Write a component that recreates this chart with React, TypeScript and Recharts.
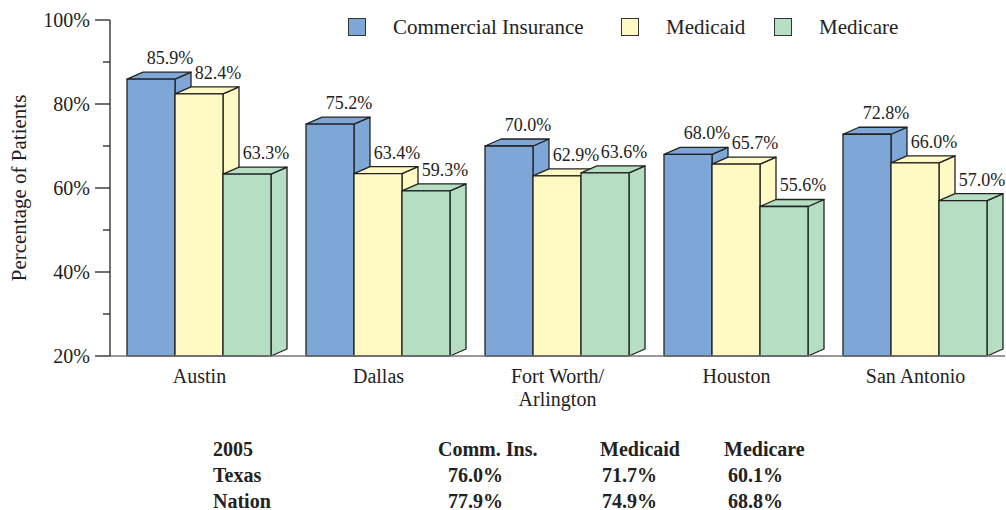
import { BarChart, Bar, XAxis, YAxis, LabelList } from 'recharts';

const cities = ['Austin', 'Dallas', 'Fort Worth/\nArlington', 'Houston', 'San Antonio'];
const commercial = [85.9, 75.2, 70.0, 68.0, 72.8];
const medicaid = [82.4, 63.4, 62.9, 65.7, 66.0];
const medicare = [63.3, 59.3, 63.6, 55.6, 57.0];
const yTicks = [20, 30, 40, 50, 60, 70, 80, 90, 100];
const labeledTicks = [20, 40, 60, 80, 100];

const seriesNames = ['Commercial Insurance', 'Medicaid', 'Medicare'];
const seriesColors = ['#7ea7d8', '#fff9c4', '#b5dec2'];

const tableHeader = ['2005', 'Comm. Ins.', 'Medicaid', 'Medicare'];
const texasRow = ['Texas', '76.0%', '71.7%', '60.1%'];
const nationRow = ['Nation', '77.9%', '74.9%', '68.8%'];

const data = cities.map((city, i) => ({
  city,
  commercial: commercial[i],
  medicaid: medicaid[i],
  medicare: medicare[i],
}));

const FONT = '"Liberation Serif", "Times New Roman", serif';
const DX = 16;
const DY = 7;

const Bar3D = (props: any) => {
  const { x, y, width, height, fill } = props;
  if (width == null || height == null) return null;
  const side = `${x + width},${y} ${x + width + DX},${y - DY} ${x + width + DX},${y + height - DY} ${x + width},${y + height}`;
  const top = `${x},${y} ${x + DX},${y - DY} ${x + width + DX},${y - DY} ${x + width},${y}`;
  return (
    <g stroke="#222" strokeWidth={1.3} strokeLinejoin="round">
      <polygon points={side} fill={fill} />
      <polygon points={top} fill={fill} />
      <rect x={x} y={y} width={width} height={height} fill={fill} />
    </g>
  );
};

const ValueLabel = (props: any) => {
  const { x, y, width, value } = props;
  return (
    <text x={x + width / 2 + 19} y={y - 15} textAnchor="middle" fontSize={18} fontFamily={FONT} fill="#222">
      {Number(value).toFixed(1)}%
    </text>
  );
};

const YTick = (props: any) => {
  const { x, y, payload } = props;
  const major = labeledTicks.includes(payload.value);
  const end = x + 20;
  return (
    <g>
      <line x1={major ? end - 15 : end - 7} x2={end} y1={y} y2={y} stroke="#333" strokeWidth={1.4} />
      {major && (
        <text x={x} y={y} dy="0.36em" textAnchor="end" fontSize={20} fontFamily={FONT} fill="#222">
          {payload.value}%
        </text>
      )}
    </g>
  );
};

const XTick = (props: any) => {
  const { x, y, payload } = props;
  const lines = String(payload.value).split('\n');
  return (
    <text x={x} y={y} textAnchor="middle" fontSize={20} fontFamily={FONT} fill="#222">
      {lines.map((line, i) => (
        <tspan key={i} x={x} dy={i === 0 ? 19 : 23}>
          {line}
        </tspan>
      ))}
    </text>
  );
};

const AxisTitle = (props: any) => {
  const { viewBox } = props;
  const cx = 19;
  const cy = viewBox.y + viewBox.height / 2;
  return (
    <text x={cx} y={cy} dy="0.35em" textAnchor="middle" transform={`rotate(-90, ${cx}, ${cy})`} fontSize={21} fontFamily={FONT} fill="#222">
      Percentage of Patients
    </text>
  );
};

export default function App() {
  const legendX = [348, 621, 774];
  const tableCols = [213, 438, 600, 724];
  const valueCols = [213, 448, 602, 728];
  const rows = [tableHeader, texasRow, nationRow];
  return (
    <div style={{ position: 'absolute', left: 0, top: 0, width: 1006, height: 510, background: '#fff', fontFamily: FONT }}>
      <BarChart
        width={1006}
        height={510}
        data={data}
        margin={{ top: 20, right: 1, left: 0, bottom: 0 }}
        barCategoryGap={17}
        barGap={0}
      >
        <XAxis
          dataKey="city"
          interval={0}
          height={154}
          tickLine={false}
          axisLine={{ stroke: '#777', strokeWidth: 1.4 }}
          tick={<XTick />}
        />
        <YAxis
          width={110}
          domain={[20, 100]}
          ticks={yTicks}
          interval={0}
          tickSize={15}
          tickMargin={5}
          tickLine={false}
          axisLine={{ stroke: '#333', strokeWidth: 1.4 }}
          tick={<YTick />}
          label={{ content: <AxisTitle /> }}
        />
        <Bar dataKey="commercial" fill={seriesColors[0]} shape={<Bar3D />} isAnimationActive={false}>
          <LabelList dataKey="commercial" content={<ValueLabel />} />
        </Bar>
        <Bar dataKey="medicaid" fill={seriesColors[1]} shape={<Bar3D />} isAnimationActive={false}>
          <LabelList dataKey="medicaid" content={<ValueLabel />} />
        </Bar>
        <Bar dataKey="medicare" fill={seriesColors[2]} shape={<Bar3D />} isAnimationActive={false}>
          <LabelList dataKey="medicare" content={<ValueLabel />} />
        </Bar>
      </BarChart>

      {seriesNames.map((name, i) => (
        <div key={name}>
          <div
            style={{
              position: 'absolute',
              left: legendX[i],
              top: 18,
              width: 16,
              height: 16,
              background: seriesColors[i],
              border: '1.3px solid #333',
            }}
          />
          <div style={{ position: 'absolute', left: legendX[i] + 45, top: 14, fontSize: 21, lineHeight: '26px', color: '#222', whiteSpace: 'nowrap' }}>
            {name}
          </div>
        </div>
      ))}

      {rows.map((row, r) =>
        row.map((cell, c) => (
          <div
            key={`${r}-${c}`}
            style={{
              position: 'absolute',
              left: r === 0 ? tableCols[c] : valueCols[c],
              top: 437 + r * 26,
              fontSize: 20,
              fontWeight: 'bold',
              lineHeight: '24px',
              color: '#222',
              whiteSpace: 'nowrap',
            }}
          >
            {cell}
          </div>
        ))
      )}
    </div>
  );
}
